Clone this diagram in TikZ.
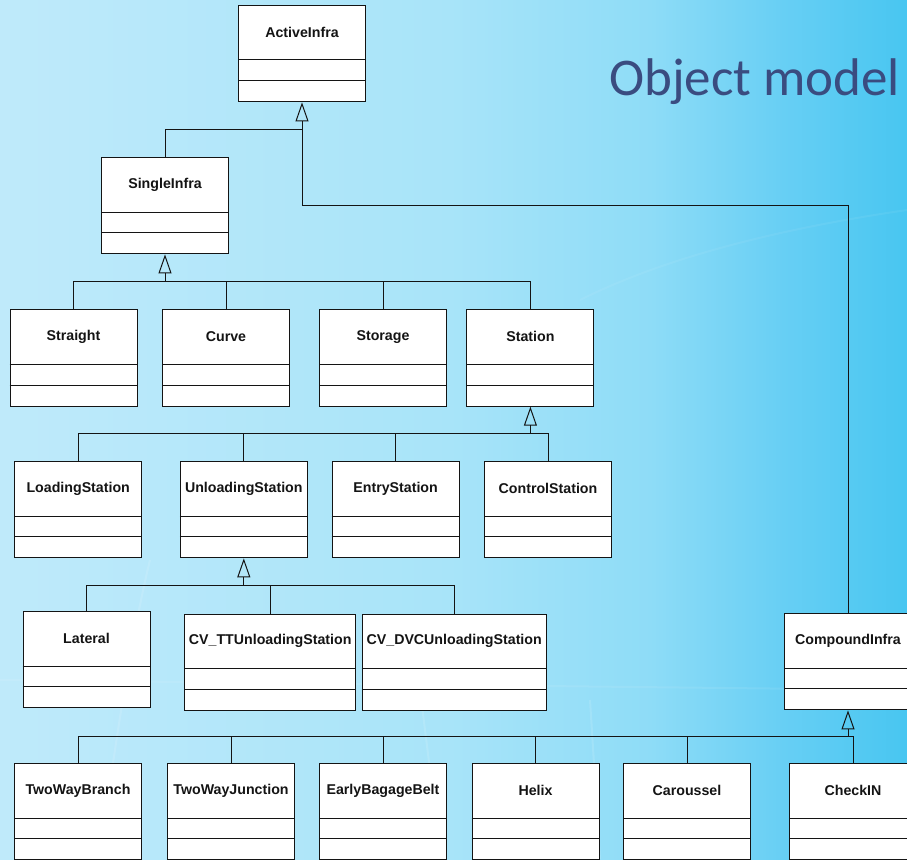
\documentclass[tikz,border=0pt]{standalone}
\usepackage{fontspec}
\setmainfont{Liberation Sans}
\newfontfamily\titlefont{Carlito}
\usetikzlibrary{arrows.meta,calc}

\definecolor{titleblue}{RGB}{58,76,128}
\definecolor{umlink}{RGB}{20,20,20}
\definecolor{bgA}{RGB}{191,234,250}
\definecolor{bgB}{RGB}{168,228,249}
\definecolor{bgC}{RGB}{142,220,247}
\definecolor{bgD}{RGB}{104,207,244}
\definecolor{bgE}{RGB}{72,198,241}

\tikzset{
  classbox/.style={draw=umlink, line width=1pt, fill=white, rectangle,
    minimum height=96.4pt, inner sep=0pt, anchor=north west},
  classname/.style={font=\fontsize{14.2}{16}\selectfont\bfseries, text=umlink, inner sep=0pt},
  classline/.style={draw=umlink, line width=1pt},
  link/.style={draw=umlink, line width=1pt},
  inherit/.style={draw=umlink, line width=1pt,
    -{Triangle[open, length=19pt, width=13pt, line width=1pt]}},
  ray/.style={white, opacity=0.12, line width=2pt},
}

% UML class box: name, left x, top y, width, class name
\newcommand{\umlclass}[5]{%
  \node[classbox, minimum width=#4pt] (#1) at (#2,#3) {};
  \node[classname] (#1-name) at ([yshift=-27.5pt]#1.north) {#5};
  \draw[classline] ([yshift=-55pt]#1.north west) -- ([yshift=-55pt]#1.north east);
  \draw[classline] ([yshift=-75.7pt]#1.north west) -- ([yshift=-75.7pt]#1.north east);
}

\begin{document}
\begin{tikzpicture}[x=1pt, y=-1pt]
  \useasboundingbox (0,0) rectangle (907,859);
  \clip (0,0) rectangle (907,859);

  % background: pale on the left, cyan on the right
  \shade[left color=bgA, right color=bgB] (0,0) rectangle (451,859);
  \shade[left color=bgB, right color=bgC] (450,0) rectangle (651,859);
  \shade[left color=bgC, right color=bgD] (650,0) rectangle (781,859);
  \shade[left color=bgD, right color=bgE] (780,0) rectangle (907,859);
  \draw[ray] (100,859) .. controls (120,700) and (140,600) .. (150,560);
  \draw[ray] (440,859) .. controls (430,760) and (420,700) .. (415,640);
  \draw[ray] (600,859) .. controls (595,780) .. (590,700);
  \draw[ray, opacity=0.08] (0,680) -- (907,690);
  \draw[ray, opacity=0.06] (580,300) .. controls (660,260) and (770,230) .. (907,210);

  % title
  \node[font=\titlefont\fontsize{53}{60}\selectfont, text=titleblue, anchor=base west,
        inner sep=0pt] (title) at (609,95) {Object model};

  % classes
  \umlclass{active}{238}{5}{127}{ActiveInfra}
  \umlclass{single}{101}{157}{127}{SingleInfra}

  \umlclass{straight}{9.5}{309.3}{127}{Straight}
  \umlclass{curve}{162}{309.3}{127}{Curve}
  \umlclass{storage}{319}{309.3}{127}{Storage}
  \umlclass{station}{466.4}{309.3}{127}{Station}

  \umlclass{loading}{14.2}{461}{127}{LoadingStation}
  \umlclass{unloading}{179.8}{461}{127}{UnloadingStation}
  \umlclass{entry}{331.6}{461}{127}{EntryStation}
  \umlclass{control}{484}{461}{127}{ControlStation}

  \umlclass{lateral}{22.5}{611}{127}{Lateral}
  \umlclass{cvtt}{184.2}{613.7}{171}{CV\_TTUnloadingStation}
  \umlclass{cvdvc}{361.7}{613.7}{184}{CV\_DVCUnloadingStation}

  \umlclass{compound}{784}{613}{127}{CompoundInfra}

  \umlclass{branch}{14}{763}{127}{TwoWayBranch}
  \umlclass{junction}{167}{763}{127}{TwoWayJunction}
  \umlclass{early}{319}{763}{127}{EarlyBagageBelt}
  \umlclass{helix}{471.5}{763}{127}{Helix}
  \umlclass{carousel}{623}{763}{127}{Caroussel}
  \umlclass{checkin}{789}{763}{127}{CheckIN}

  % junction points of the generalisation trees
  \coordinate (jActive) at (active.south |- 0,129);
  \coordinate (jActiveRight) at (active.south |- 0,205);
  \coordinate (jSingle) at (single.south |- 0,281.5);
  \coordinate (jStation) at (station.south |- 0,433.3);
  \coordinate (jUnload) at (unloading.south |- 0,585);
  \coordinate (jCompound) at (compound.south |- 0,736.7);

  % ActiveInfra
  \draw[inherit] (jActive) -- (active.south);
  \draw[link] (single.north) |- (jActive);
  \draw[link] (compound.north) |- (jActiveRight) -- (jActive);

  % SingleInfra
  \draw[inherit] (jSingle) -- (single.south);
  \foreach \c in {straight,curve,storage,station}
    \draw[link] (\c.north) |- (jSingle);

  % Station
  \draw[inherit] (jStation) -- (station.south);
  \foreach \c in {loading,unloading,entry,control}
    \draw[link] (\c.north) |- (jStation);

  % UnloadingStation
  \draw[inherit] (jUnload) -- (unloading.south);
  \foreach \c in {lateral,cvtt,cvdvc}
    \draw[link] (\c.north) |- (jUnload);

  % CompoundInfra
  \draw[inherit] (jCompound) -- (compound.south);
  \foreach \c in {branch,junction,early,helix,carousel,checkin}
    \draw[link] (\c.north) |- (jCompound);
\end{tikzpicture}
\end{document}
